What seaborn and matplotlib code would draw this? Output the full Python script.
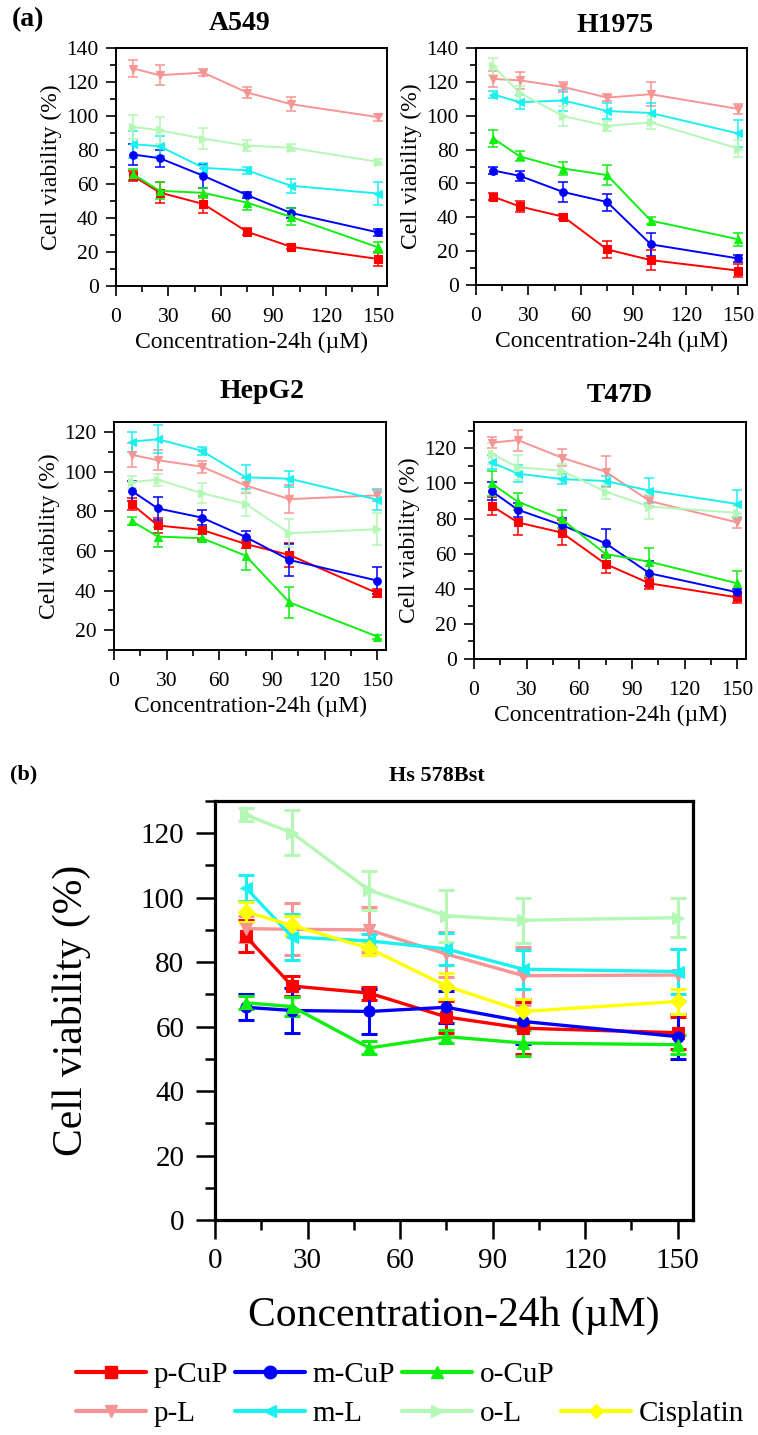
import matplotlib
matplotlib.use("Agg")
import matplotlib.pyplot as plt
from matplotlib.lines import Line2D
from matplotlib.ticker import MultipleLocator
import pandas as pd
import seaborn as sns

# ---------------- data ----------------
conc = [10, 25, 50, 75, 100, 150]
series_names = ["p-CuP", "m-CuP", "o-CuP", "p-L", "m-L", "o-L", "Cisplatin"]
series_colors = ["#FF0000", "#0000FF", "#11EE11", "#F79494", "#1AF0F0", "#B5F7B5", "#FFFF00"]
series_markers = ["s", "o", "^", "v", "<", ">", "D"]

# A549
a549_p_cup = [64.6, 55.0, 48.2, 31.9, 23.1, 15.9]
a549_m_cup = [77.3, 75.2, 64.8, 53.5, 43.0, 31.5]
a549_o_cup = [65.6, 56.0, 54.8, 49.0, 40.7, 22.7]
a549_p_l = [127.9, 124.0, 125.5, 113.8, 107.0, 99.3]
a549_m_l = [83.4, 82.2, 69.5, 68.0, 59.0, 54.4]
a549_o_l = [93.6, 91.6, 86.7, 82.6, 81.3, 73.0]
a549_p_cup_err = [3, 6, 5, 2, 1.5, 4]
a549_m_cup_err = [6, 5, 7, 2, 3, 2]
a549_o_cup_err = [3, 5, 3, 4, 5, 3]
a549_p_l_err = [5, 6, 2, 3, 4, 2]
a549_m_l_err = [8, 6, 3, 2, 4, 7]
a549_o_l_err = [7, 8, 6, 3, 2, 2]

# H1975
h1975_p_cup = [52.1, 46.4, 40.3, 21.0, 14.7, 8.5]
h1975_m_cup = [67.6, 64.5, 54.9, 49.0, 24.0, 15.7]
h1975_o_cup = [86.5, 76.0, 68.8, 64.9, 38.0, 27.0]
h1975_p_l = [121.7, 120.9, 117.0, 110.7, 112.7, 104.0]
h1975_m_l = [112.5, 108.0, 109.0, 102.8, 101.6, 89.5]
h1975_o_l = [129.2, 113.5, 99.7, 94.0, 96.0, 80.6]
h1975_p_cup_err = [2, 3, 1.5, 5, 6, 4]
h1975_m_cup_err = [2, 3, 6, 5, 7, 2]
h1975_o_cup_err = [5, 3, 4, 6, 2, 4]
h1975_p_l_err = [5, 5, 3, 2, 7, 3]
h1975_m_l_err = [2, 4, 6, 5, 6, 8]
h1975_o_l_err = [5, 4, 6, 3, 4, 5]

# HepG2
hepg2_p_cup = [83.7, 72.8, 70.6, 63.5, 57.9, 38.7]
hepg2_m_cup = [90.3, 81.4, 76.8, 67.0, 55.4, 45.0]
hepg2_o_cup = [75.1, 67.2, 66.4, 57.6, 34.0, 16.8]
hepg2_p_l = [108.5, 105.7, 102.5, 93.0, 86.1, 88.0]
hepg2_m_l = [115.1, 116.3, 110.5, 97.1, 96.4, 85.8]
hepg2_o_l = [94.7, 95.9, 89.1, 83.7, 68.9, 70.9]
hepg2_p_cup_err = [3, 4, 5, 2, 6, 2]
hepg2_m_cup_err = [5, 6, 4, 3, 8, 7]
hepg2_o_cup_err = [2, 5, 2, 7, 8, 1]
hepg2_p_l_err = [6, 5, 3, 4, 7, 3]
hepg2_m_l_err = [5, 7, 2, 6, 4, 5]
hepg2_o_l_err = [3, 3, 5, 6, 7, 8]

# T47D
t47d_p_cup = [87.3, 77.8, 72.0, 54.1, 43.1, 35.1]
t47d_m_cup = [95.7, 85.0, 76.3, 65.9, 48.8, 38.0]
t47d_o_cup = [100.0, 89.6, 79.6, 59.8, 55.4, 43.1]
t47d_p_l = [123.2, 124.7, 114.7, 106.7, 90.0, 77.8]
t47d_m_l = [112.0, 105.6, 102.5, 101.4, 95.9, 88.3]
t47d_o_l = [116.8, 109.2, 107.3, 95.3, 86.8, 83.3]
t47d_p_cup_err = [5, 7, 7, 5, 3, 3]
t47d_m_cup_err = [5, 4, 4, 8, 7, 2]
t47d_o_cup_err = [7, 5, 5, 4, 8, 7]
t47d_p_l_err = [3, 6, 5, 9, 3, 3]
t47d_m_l_err = [4, 5, 3, 3, 7, 8]
t47d_o_l_err = [6, 7, 4, 4, 7, 4]

# Hs 578Bst
hs_p_cup = [88.0, 72.6, 70.4, 63.0, 59.5, 58.1]
hs_m_cup = [66.0, 65.0, 64.7, 66.0, 61.6, 56.9]
hs_o_cup = [67.4, 66.2, 53.4, 56.9, 54.9, 54.4]
hs_p_l = [90.4, 90.2, 90.0, 82.5, 75.8, 76.0]
hs_m_l = [103.1, 87.8, 86.6, 84.1, 77.8, 77.1]
hs_o_l = [125.7, 120.1, 102.3, 94.4, 93.0, 93.8]
hs_cis = [95.6, 91.4, 84.3, 72.6, 64.7, 67.8]
hs_p_cup_err = [5, 3, 2, 5, 8, 5]
hs_m_cup_err = [4, 7, 7, 5, 7, 7]
hs_o_cup_err = [2, 3, 2, 2, 4, 3]
hs_p_l_err = [4, 8, 7, 7, 9, 8]
hs_m_l_err = [4, 7, 2, 5, 6, 7]
hs_o_l_err = [2, 7, 6, 8, 7, 6]
hs_cis_err = [3, 3, 2, 4, 4, 4]

# ---------------- style ----------------
sns.set_style("ticks")
plt.rcParams["font.family"] = ["Liberation Serif", "DejaVu Serif"]
plt.rcParams["axes.edgecolor"] = "black"
plt.rcParams["xtick.color"] = "black"
plt.rcParams["ytick.color"] = "black"
plt.rcParams["text.color"] = "black"
plt.rcParams["axes.labelcolor"] = "black"

W, H = 758, 1435
fig = plt.figure(figsize=(W / 100, H / 100), dpi=100)


def box(l, t, r, b):
    return [l / W, 1 - b / H, (r - l) / W, (b - t) / H]


def ftext(x, y, s, **kw):
    fig.text(x / W, 1 - y / H, s, ha="center", va="center", **kw)


def draw_panel(ax, vals, errs, idxs, lw, ms, elw, cap, ylim, ymaj, ymin_loc,
               tick_fs, lab_fs, spine_w, maj_len, min_len, tick_w, xpad, ypad, xlabpad, ylabpad):
    for k, v, e in zip(idxs, vals, errs):
        c = series_colors[k]
        df = pd.DataFrame({"conc": conc, "viability": v})
        ax.errorbar(df["conc"], df["viability"], yerr=e, fmt="none", ecolor=c,
                    elinewidth=elw, capsize=cap, capthick=elw, zorder=2)
        sns.lineplot(data=df, x="conc", y="viability", ax=ax, color=c,
                     marker=series_markers[k], markersize=ms, markeredgecolor=c,
                     markeredgewidth=0.8, linewidth=lw, errorbar=None, zorder=3)
    ax.set_xlim(0, 155)
    ax.set_ylim(*ylim)
    ax.xaxis.set_major_locator(MultipleLocator(30))
    ax.xaxis.set_minor_locator(MultipleLocator(15))
    ax.yaxis.set_major_locator(ymaj)
    ax.yaxis.set_minor_locator(ymin_loc)
    ax.tick_params(which="both", direction="out", top=False, right=False, width=tick_w)
    ax.tick_params(which="major", length=maj_len, labelsize=tick_fs)
    ax.tick_params(axis="x", which="major", pad=xpad)
    ax.tick_params(axis="y", which="major", pad=ypad)
    ax.tick_params(which="minor", length=min_len)
    for sp in ax.spines.values():
        sp.set_linewidth(spine_w)
        sp.set_visible(True)
    ax.set_xlabel("Concentration-24h (\u00b5M)", fontsize=lab_fs, labelpad=xlabpad)
    ax.set_ylabel("Cell viability (%)", fontsize=lab_fs, labelpad=ylabpad)


small = dict(lw=1.4, ms=5.5, elw=1.1, cap=3.5, tick_fs=15.5, lab_fs=17, spine_w=1.4,
             maj_len=7.5, min_len=4, tick_w=1.2, xpad=8.5, ypad=5, xlabpad=3, ylabpad=3)

six = [0, 1, 2, 3, 4, 5]

ax1 = fig.add_axes(box(116, 48, 387, 286))
draw_panel(ax1,
           [a549_p_cup, a549_m_cup, a549_o_cup, a549_p_l, a549_m_l, a549_o_l],
           [a549_p_cup_err, a549_m_cup_err, a549_o_cup_err, a549_p_l_err, a549_m_l_err, a549_o_l_err],
           six, ylim=(0, 140), ymaj=MultipleLocator(20), ymin_loc=MultipleLocator(10), **small)

ax2 = fig.add_axes(box(476, 48, 747, 285))
draw_panel(ax2,
           [h1975_p_cup, h1975_m_cup, h1975_o_cup, h1975_p_l, h1975_m_l, h1975_o_l],
           [h1975_p_cup_err, h1975_m_cup_err, h1975_o_cup_err, h1975_p_l_err, h1975_m_l_err, h1975_o_l_err],
           six, ylim=(0, 140), ymaj=MultipleLocator(20), ymin_loc=MultipleLocator(10), **small)

ax3 = fig.add_axes(box(114, 422, 386, 650))
draw_panel(ax3,
           [hepg2_p_cup, hepg2_m_cup, hepg2_o_cup, hepg2_p_l, hepg2_m_l, hepg2_o_l],
           [hepg2_p_cup_err, hepg2_m_cup_err, hepg2_o_cup_err, hepg2_p_l_err, hepg2_m_l_err, hepg2_o_l_err],
           six, ylim=(10, 125), ymaj=MultipleLocator(20), ymin_loc=MultipleLocator(10), **small)

ax4 = fig.add_axes(box(474, 422, 746, 659))
draw_panel(ax4,
           [t47d_p_cup, t47d_m_cup, t47d_o_cup, t47d_p_l, t47d_m_l, t47d_o_l],
           [t47d_p_cup_err, t47d_m_cup_err, t47d_o_cup_err, t47d_p_l_err, t47d_m_l_err, t47d_o_l_err],
           six, ylim=(0, 135), ymaj=MultipleLocator(20), ymin_loc=MultipleLocator(10), **small)

ax5 = fig.add_axes(box(215, 801, 693, 1220))
draw_panel(ax5,
           [hs_p_cup, hs_m_cup, hs_o_cup, hs_p_l, hs_m_l, hs_o_l, hs_cis],
           [hs_p_cup_err, hs_m_cup_err, hs_o_cup_err, hs_p_l_err, hs_m_l_err, hs_o_l_err, hs_cis_err],
           [0, 1, 2, 3, 4, 5, 6], ylim=(0, 130), ymaj=MultipleLocator(20), ymin_loc=MultipleLocator(10),
           lw=2.4, ms=8, elw=2.2, cap=6, tick_fs=21, lab_fs=30, spine_w=2.3,
           maj_len=14, min_len=7, tick_w=1.8, xpad=6, ypad=8, xlabpad=16, ylabpad=36)

# titles / panel labels
ftext(240, 24, "A549", fontsize=20, fontweight="bold")
ftext(615, 26, "H1975", fontsize=20, fontweight="bold")
ftext(262, 392, "HepG2", fontsize=20, fontweight="bold")
ftext(620, 396, "T47D", fontsize=20, fontweight="bold")
ftext(437, 776, "Hs 578Bst", fontsize=16, fontweight="bold")
ftext(28, 20, "(a)", fontsize=20, fontweight="bold")
ftext(24, 774, "(b)", fontsize=16, fontweight="bold")

# legend
handles = []
labels = []
order = [0, 3, 1, 4, 2, 5, None, 6]
for k in order:
    if k is None:
        handles.append(Line2D([], [], linestyle="none", marker=None))
        labels.append("")
    else:
        handles.append(Line2D([], [], color=series_colors[k], marker=series_markers[k],
                              markersize=9 if series_markers[k] != "D" else 7.5,
                              markeredgecolor=series_colors[k], linewidth=3))
        labels.append(series_names[k])
fig.legend(handles, labels, ncol=4, loc="upper left", bbox_to_anchor=(76 / W, 1 - 1362 / H),
           frameon=False, fontsize=21, handlelength=2.4, handletextpad=0.25,
           columnspacing=0.25, labelspacing=0.42, borderpad=0, borderaxespad=0)

fig.savefig("out.png", dpi=100)
